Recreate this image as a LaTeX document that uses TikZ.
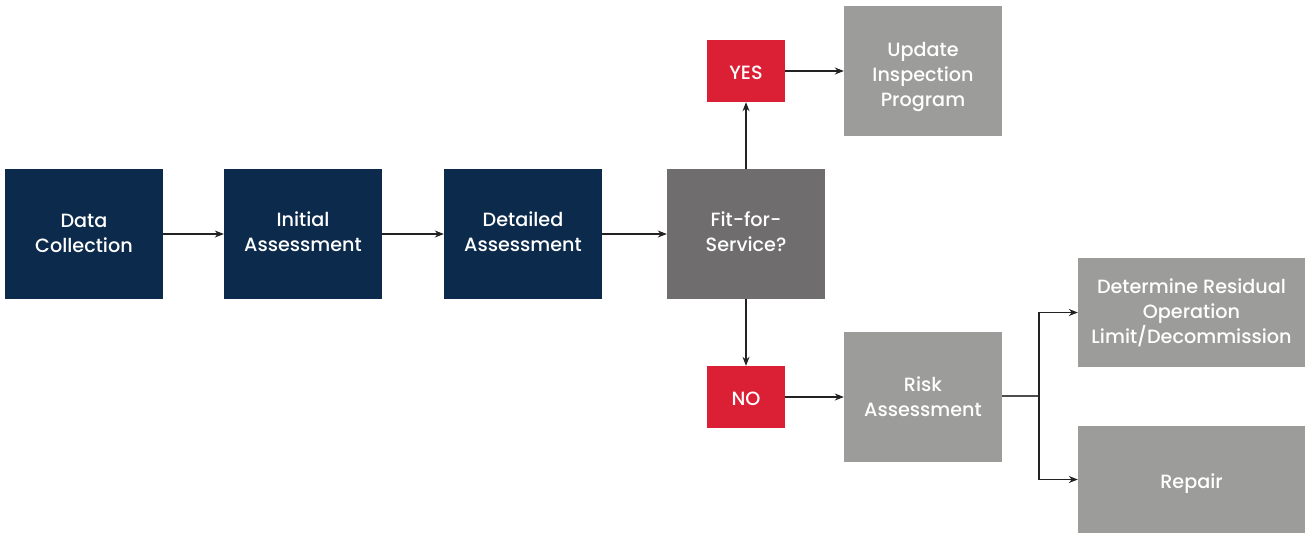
\documentclass[tikz,border=0pt]{standalone}
\usepackage{fontspec}
\setmainfont{Poppins Medium}
\usetikzlibrary{arrows.meta}
\definecolor{navy}{HTML}{0C2A4B}
\definecolor{dgray}{HTML}{6F6D6E}
\definecolor{lgray}{HTML}{9C9C9B}
\definecolor{fred}{HTML}{DB1F35}
\definecolor{lineg}{HTML}{222222}
\begin{document}
\begin{tikzpicture}[x=1pt,y=-1pt,
  box/.style={inner sep=0pt, text=white, align=center, font=\fontsize{19.2}{25}\selectfont},
  conn/.style={draw=lineg, line width=1.1pt, -{Stealth[length=9pt,width=7pt]}},
  plain/.style={draw=lineg!80!white, line width=1.1pt}]
\useasboundingbox (0,0) rectangle (1306,533);
\newcommand{\bx}[6]{\node[box, fill=#2, minimum width=#5-#3, minimum height=#6-#4] (#1) at ({(#3+#5)/2},{(#4+#6)/2}) {};}
\bx{dc}{navy}{5}{169}{163}{299}
\bx{ia}{navy}{224}{169}{382}{299}
\bx{da}{navy}{444}{169}{602}{299}
\bx{ffs}{dgray}{667}{169}{825}{299}
\bx{yes}{fred}{707}{40}{785}{102}
\bx{no}{fred}{707}{366}{785}{428}
\bx{up}{lgray}{844}{6}{1002}{136}
\bx{ra}{lgray}{844}{332}{1002}{462}
\bx{dr}{lgray}{1078}{258}{1305}{367}
\bx{rp}{lgray}{1078}{426}{1305}{533}
\node[box] (tdc) at ([yshift=1]dc) {Data\\Collection};
\node[box] (tia) at ([yshift=2]ia) {Initial\\Assessment};
\node[box] (tda) at ([yshift=2]da) {Detailed\\Assessment};
\node[box] (tffs) at ([yshift=2]ffs) {Fit-for-\\Service?};
\node[box] (tyes) at ([yshift=-2]yes) {YES};
\node[box] (tno) at ([yshift=-2]no) {NO};
\node[box] (tup) at ([yshift=-6]up) {Update\\Inspection\\Program};
\node[box] (tra) at ([yshift=0]ra) {Risk\\Assessment};
\node[box] (tdr) at ([yshift=0]dr) {Determine Residual\\Operation\\Limit/Decommission};
\node[box] (trp) at ([yshift=-4]rp) {Repair};
\draw[conn] (dc.east) -- (ia.west);
\draw[conn] (ia.east) -- (da.west);
\draw[conn] (da.east) -- (ffs.west);
\draw[conn] (ffs.north) -- (yes.south);
\draw[conn] (yes.east) -- (up.west |- yes.east);
\draw[conn] (ffs.south) -- (no.north);
\draw[conn] (no.east) -- (ra.west |- no.east);
\coordinate (br) at (1039,396);
\draw[plain] (ra.east |- br) -- (br);
\draw[conn] (br) |- (dr.west);
\draw[conn] (br) |- (rp.west);
\end{tikzpicture}
\end{document}
